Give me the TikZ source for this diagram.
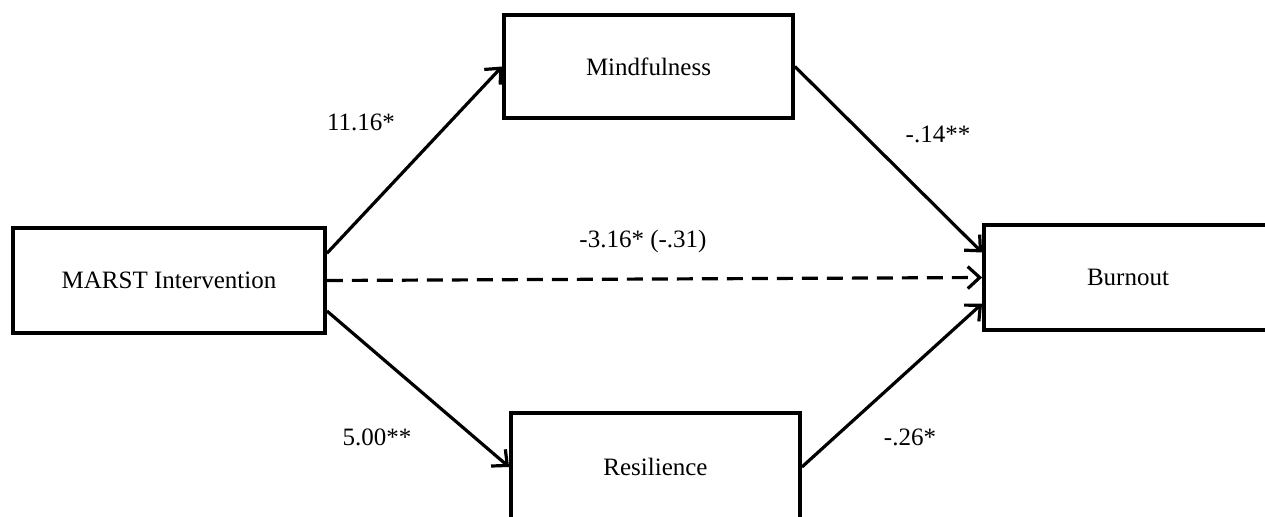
\documentclass[tikz,border=0pt]{standalone}
\usepackage{fontspec}
\setmainfont{Liberation Serif}
\usetikzlibrary{arrows.meta,calc}

\tikzset{every picture/.style={line width=1.9pt}}
\tikzset{
	varbox/.style={draw, rectangle, inner sep=0pt, font=\fontsize{12.5}{15}\selectfont},
	coef/.style={inner sep=1pt, font=\fontsize{12.5}{15}\selectfont},
	path/.style={line width=1.6pt, -{Straight Barb[length=6pt,width=11pt]}}
}

\begin{document}
\begin{tikzpicture}[x=0.5pt,y=0.5pt,yscale=-1,xscale=1]
	\clip (0,0) rectangle (1265,516);

	% Variables
	\node[varbox, minimum width=156pt, minimum height=52.5pt] (marst) at (169,280.5) {MARST Intervention};
	\node[varbox, minimum width=144.5pt, minimum height=51.5pt] (mind) at (648.5,66.5) {Mindfulness};
	\node[varbox, minimum width=144pt, minimum height=52.5pt] (burn) at (1128,277.5) {Burnout};
	\node[varbox, minimum width=144.5pt, minimum height=54pt] (res) at (655.5,467) {Resilience};

	% Paths
	\draw[path] ($(marst.north east)!0.25!(marst.south east)$) -- (mind.west);
	\draw[path] ($(marst.north east)!0.78!(marst.south east)$) -- (res.west);
	\draw[path, dash pattern=on 8pt off 4.5pt] (marst.east) -- (burn.west);
	\draw[path] (mind.east) -- ($(burn.north west)!0.27!(burn.south west)$);
	\draw[path] (res.east) -- ($(burn.north west)!0.74!(burn.south west)$);

	% Coefficients
	\node[coef] (ca) at (361,122) {11.16*};
	\node[coef] (cb) at (938,134) {-.14**};
	\node[coef] (cc) at (643,241) {-3.16* (-.31)};
	\node[coef] (cd) at (377,437) {5.00**};
	\node[coef] (ce) at (910,437) {-.26*};
\end{tikzpicture}
\end{document}
